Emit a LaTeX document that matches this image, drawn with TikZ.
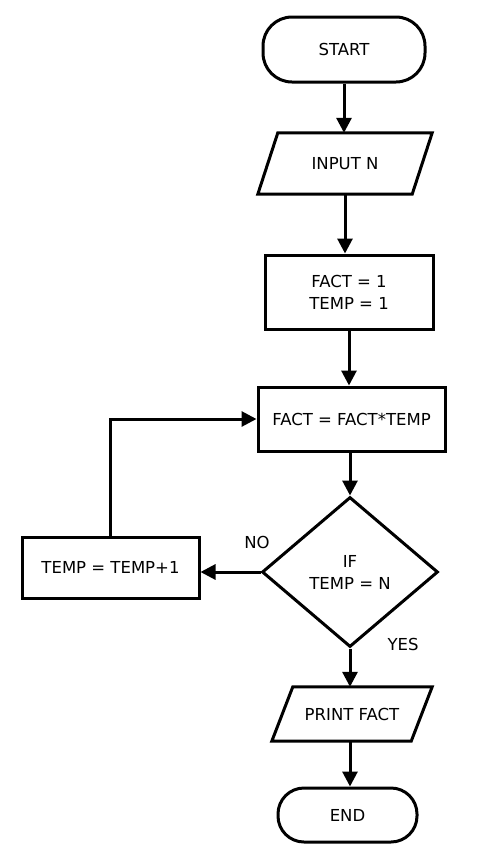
\documentclass[tikz,border=0pt]{standalone}
\usepackage{fontspec}
\setmainfont{DejaVu Sans}
\usetikzlibrary{shapes.geometric,arrows.meta,calc}
\begin{document}
\begin{tikzpicture}[x=1pt,y=-1pt,
  every node/.style={font=\fontsize{16.5}{22}\selectfont, align=center},
  base/.style={draw, line width=3pt, inner sep=0pt},
  term/.style={base, rectangle, rounded corners=29pt},
  io/.style={rectangle, inner sep=0pt},
  ioline/.style={line width=3pt, line join=miter},
  proc/.style={base, rectangle},
  dec/.style={base, diamond},
  conn/.style={line width=3pt, -{Triangle[length=15pt,width=15pt]}},
  lbl/.style={inner sep=0pt}
]
\useasboundingbox (0,0) rectangle (480,852);
\node[term, minimum width=162pt, minimum height=65pt] (start) at (344,49.5) {START};
\node[io, minimum width=174pt, minimum height=61pt] (input) at (345,163.5) {INPUT N};
\draw[ioline] ($(input.north west)+(20,0)$) -- (input.north east) -- ($(input.south east)+(-20,0)$) -- (input.south west) -- cycle;
\node[proc, minimum width=168pt, minimum height=74pt] (init) at (349,292) {FACT = 1\\TEMP = 1};
\node[proc, minimum width=187pt, minimum height=64pt] (mult) at (351.5,419) {FACT = FACT*TEMP};
\node[dec, minimum width=176pt, minimum height=150pt] (test) at (350,572) {IF\\TEMP = N};
\node[proc, minimum width=177pt, minimum height=61pt] (inc) at (110.5,567.5) {TEMP = TEMP+1};
\node[io, minimum width=160pt, minimum height=54pt] (print) at (352,714) {PRINT FACT};
\draw[ioline] ($(print.north west)+(21,0)$) -- (print.north east) -- ($(print.south east)+(-21,0)$) -- (print.south west) -- cycle;
\node[term, minimum width=139pt, minimum height=54pt, rounded corners=26pt] (end) at (347.5,815) {END};
\node[lbl] (no) at (257,542) {NO};
\node[lbl] (yes) at (403,644) {YES};

\draw[conn] (start.south) -- (start.south |- input.north);
\draw[conn] (input.south) -- (input.south |- init.north);
\draw[conn] (init.south) -- (init.south |- mult.north);
\draw[conn] (mult.south -| test.north) -- (test.north);
\draw[conn] (test.west) -- (inc.east |- test.west);
\draw[conn] (inc.north) -- (inc.north |- mult.west) -- (mult.west);
\draw[conn] (test.south) -- (test.south |- print.north);
\draw[conn] (print.south -| test.south) -- (test.south |- end.north);
\end{tikzpicture}
\end{document}
